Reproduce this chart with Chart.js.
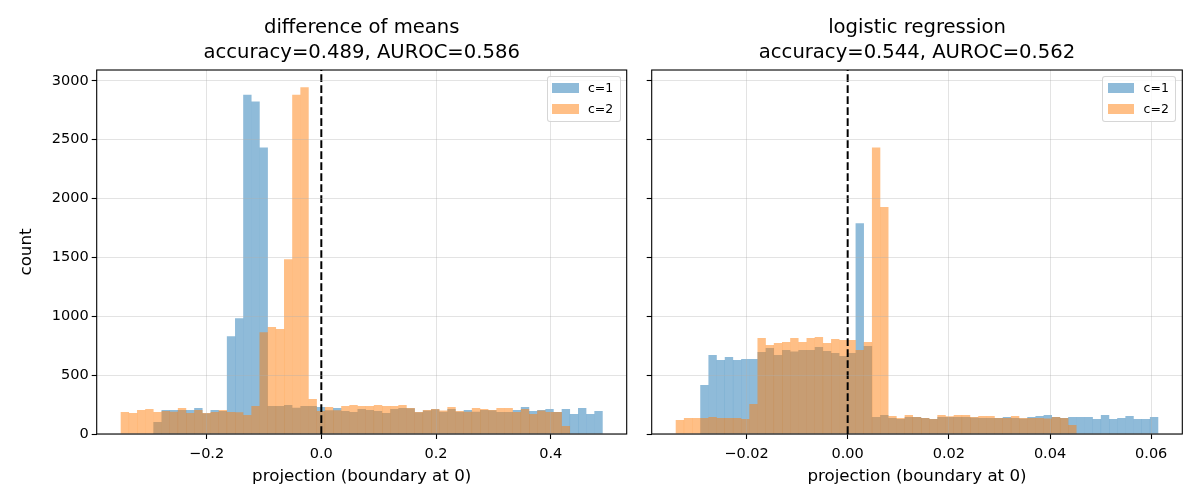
<!DOCTYPE html>
<html>
<head>
<meta charset="utf-8">
<title>projection histograms</title>
<script src="https://cdn.jsdelivr.net/npm/chart.js@4.4.1/dist/chart.umd.min.js"></script>
<style>
  body { margin: 0; background: #fff; }
  #fig { position: relative; width: 1200px; height: 504px; overflow: hidden; font-family: 'DejaVu Sans', sans-serif; }
  #fig canvas { position: absolute; top: 0; }
  .legend { position: absolute; box-sizing: border-box; width: 74px; height: 46px;
    border: 1px solid rgba(204, 204, 204, 0.8); border-radius: 3px; background: rgba(255, 255, 255, 0.8);
    font-size: 12.5px; color: #000; }
  .legend .patch { position: absolute; left: 4.3px; width: 26.7px; height: 9.3px; }
  .legend .name { position: absolute; left: 40.3px; line-height: 20px; white-space: nowrap; }
</style>
</head>
<body>
<div id="fig">
  <canvas id="leftChart" width="640" height="504" style="left:0px"></canvas>
  <canvas id="rightChart" width="560" height="504" style="left:640px"></canvas>
</div>
<script>
//series names and colours (matplotlib C0 / C1 at alpha 0.5)
var seriesNames = ["c=1", "c=2"];
var seriesColors = ["rgba(31,119,180,0.5)", "rgba(255,127,14,0.5)"];

//histogram bins: 59 equal bins between the smallest and largest projection
var binCount = 59;
var leftBinRange = [-0.3496, 0.4904];
var rightBinRange = [-0.03397, 0.06138];

//difference of means: counts per bin
var leftCounts1 = [0, 0, 0, 0, 102, 203, 203, 203, 203, 220,
  175, 203, 195, 830, 983, 2881, 2822, 2432, 237, 237,
  246, 223, 237, 237, 229, 200, 220, 195, 186, 212,
  203, 195, 178, 212, 220, 218, 183, 198, 209, 189,
  212, 189, 203, 189, 203, 200, 186, 186, 203, 229,
  195, 203, 212, 186, 212, 170, 220, 170, 195];
var leftCounts2 = [186, 178, 203, 212, 186, 195, 189, 220, 178, 203,
  178, 186, 203, 186, 184, 161, 237, 864, 907, 890,
  1483, 2881, 2944, 297, 195, 229, 200, 237, 246, 237,
  237, 246, 237, 237, 246, 220, 186, 203, 212, 198,
  229, 195, 189, 220, 212, 203, 220, 220, 186, 212,
  170, 198, 186, 186, 68, 0, 0, 0, 0];

//logistic regression: counts per bin
var rightCounts1 = [0, 0, 0, 415, 670, 627, 653, 627, 636, 636,
  695, 729, 670, 712, 700, 712, 712, 737, 703, 686,
  661, 686, 1788, 746, 144, 161, 136, 127, 144, 144,
  136, 127, 144, 144, 144, 144, 140, 136, 136, 136,
  144, 136, 130, 144, 153, 161, 144, 136, 144, 144,
  144, 127, 161, 127, 136, 153, 127, 127, 144];
var rightCounts2 = [119, 136, 136, 136, 144, 136, 136, 136, 127, 254,
  814, 754, 771, 780, 814, 780, 814, 822, 771, 805,
  797, 797, 712, 780, 2432, 1927, 153, 136, 161, 144,
  136, 127, 161, 150, 161, 161, 144, 153, 153, 136,
  136, 153, 136, 136, 136, 130, 144, 136, 76, 0,
  0, 0, 0, 0, 0, 0, 0, 0, 0];

//tick values and labels
var yTicks = [0, 500, 1000, 1500, 2000, 2500, 3000];
var yTickLabels = ["0", "500", "1000", "1500", "2000", "2500", "3000"];
var leftXTicks = [-0.2, 0, 0.2, 0.4];
var leftXTickLabels = ["\u22120.2", "0.0", "0.2", "0.4"];
var rightXTicks = [-0.02, 0, 0.02, 0.04, 0.06];
var rightXTickLabels = ["\u22120.02", "0.00", "0.02", "0.04", "0.06"];

//titles
var leftTitle = ["difference of means", "accuracy=0.489, AUROC=0.586"];
var rightTitle = ["logistic regression", "accuracy=0.544, AUROC=0.562"];
var xTitle = "projection (boundary at 0)";
var yTitle = "count";

Chart.defaults.font.family = "'DejaVu Sans', sans-serif";
Chart.defaults.color = "#000";

//shared y limit, like sharey with a 5% top margin
var allCounts = leftCounts1.concat(leftCounts2, rightCounts1, rightCounts2);
var yTop = Math.max.apply(null, allCounts) * 1.05;

//bin centres from the bin range
function binCenters(range) {
  var width = (range[1] - range[0]) / binCount;
  var centers = [];
  for (var i = 0; i < binCount; i++) {
    centers.push(range[0] + (i + 0.5) * width);
  }
  return centers;
}

//draws the box around the axes
var framePlugin = {
  id: "frame",
  afterDraw: function (chart) {
    var a = chart.chartArea;
    var ctx = chart.ctx;
    ctx.save();
    ctx.strokeStyle = "#000";
    ctx.lineWidth = 1.1;
    ctx.strokeRect(a.left, a.top, a.right - a.left, a.bottom - a.top);
    ctx.restore();
  },
};

var gridColor = "rgba(176,176,176,0.35)";

//grid drawn above the bars; the x grid line at 0 is left out so it does not cover the dashed line
function gridStyle(skipZero) {
  return {
    offset: false,
    color: (c) => (skipZero && c.tick && Math.abs(c.tick.value) < 1e-12 ? "rgba(0,0,0,0)" : gridColor),
    lineWidth: 1,
    tickColor: "#000",
    tickWidth: 1.1,
    tickLength: 5,
    z: 1,
  };
}

function makeChart(canvasId, counts1, counts2, binRange, xTicks, xTickLabels, title, yAxisWidth, padRight, showY) {
  var centers = binCenters(binRange);
  var margin = (binRange[1] - binRange[0]) * 0.05;
  var ctx = document.getElementById(canvasId).getContext("2d");
  var config = {
    type: "bar",
    data: {
      datasets: [
        {
          type: "line",
          label: "boundary",
          data: [{ x: 0, y: 0 }, { x: 0, y: yTop }],
          borderColor: "#000",
          borderWidth: 2,
          borderDash: [7.7, 3.3],
          pointRadius: 0,
          fill: false,
          order: 0,
        },
        {
          label: seriesNames[1],
          data: centers.map((x, i) => ({ x: x, y: counts2[i] })),
          backgroundColor: seriesColors[1],
          borderWidth: 0,
          inflateAmount: 0.1,
          grouped: false,
          barPercentage: 1,
          categoryPercentage: 1,
          order: 1,
        },
        {
          label: seriesNames[0],
          data: centers.map((x, i) => ({ x: x, y: counts1[i] })),
          backgroundColor: seriesColors[0],
          borderWidth: 0,
          inflateAmount: 0.1,
          grouped: false,
          barPercentage: 1,
          categoryPercentage: 1,
          order: 2,
        },
      ],
    },
    options: {
      responsive: false,
      animation: false,
      events: [],
      layout: { padding: { left: 0, right: padRight, top: 0, bottom: 0 } },
      plugins: {
        legend: { display: false },
        tooltip: { enabled: false },
        title: {
          display: true,
          text: title,
          fullSize: false,
          color: "#000",
          font: { size: 19.6, weight: "normal", lineHeight: 1.24 },
          padding: { top: 16, bottom: 5.4 },
        },
      },
      scales: {
        x: {
          type: "linear",
          min: binRange[0] - margin,
          max: binRange[1] + margin,
          offset: false,
          afterBuildTicks: (axis) => { axis.ticks = xTicks.map((v) => ({ value: v })); },
          afterFit: (axis) => { axis.height = 70; },
          ticks: {
            callback: (v, i) => xTickLabels[i],
            font: { size: 14.5 },
            padding: 6.3,
            maxRotation: 0,
            autoSkip: false,
          },
          grid: gridStyle(true),
          border: { display: false },
          title: { display: true, text: xTitle, font: { size: 16.7 }, padding: { top: 0, bottom: 17 } },
        },
        y: {
          type: "linear",
          min: 0,
          max: yTop,
          afterBuildTicks: (axis) => { axis.ticks = yTicks.map((v) => ({ value: v })); },
          afterFit: (axis) => { axis.width = yAxisWidth; },
          ticks: {
            display: showY,
            callback: (v, i) => yTickLabels[i],
            font: { size: 14.5 },
            padding: 3,
          },
          grid: gridStyle(false),
          border: { display: false },
          title: { display: showY, text: yTitle, font: { size: 16.7 }, padding: { top: 17, bottom: 0 } },
        },
      },
    },
    plugins: [framePlugin],
  };
  return new Chart(ctx, config);
}

//legend box in the upper right corner of the axes
function addLegend(chart, canvasLeft) {
  var area = chart.chartArea;
  var box = document.createElement("div");
  box.className = "legend";
  box.style.left = canvasLeft + area.right - 80 + "px";
  box.style.top = area.top + 6 + "px";
  seriesNames.forEach((name, i) => {
    var patch = document.createElement("div");
    patch.className = "patch";
    patch.style.top = 6.3 + 21 * i + "px";
    patch.style.background = seriesColors[i];
    var label = document.createElement("div");
    label.className = "name";
    label.style.top = 1 + 20.8 * i + "px";
    label.textContent = name;
    box.appendChild(patch);
    box.appendChild(label);
  });
  document.getElementById("fig").appendChild(box);
}

var leftChart = makeChart("leftChart", leftCounts1, leftCounts2, leftBinRange,
  leftXTicks, leftXTickLabels, leftTitle, 96.7, 13.3, true);
var rightChart = makeChart("rightChart", rightCounts1, rightCounts2, rightBinRange,
  rightXTicks, rightXTickLabels, rightTitle, 11.7, 17.7, false);
addLegend(leftChart, 0);
addLegend(rightChart, 640);
</script>
</body>
</html>
